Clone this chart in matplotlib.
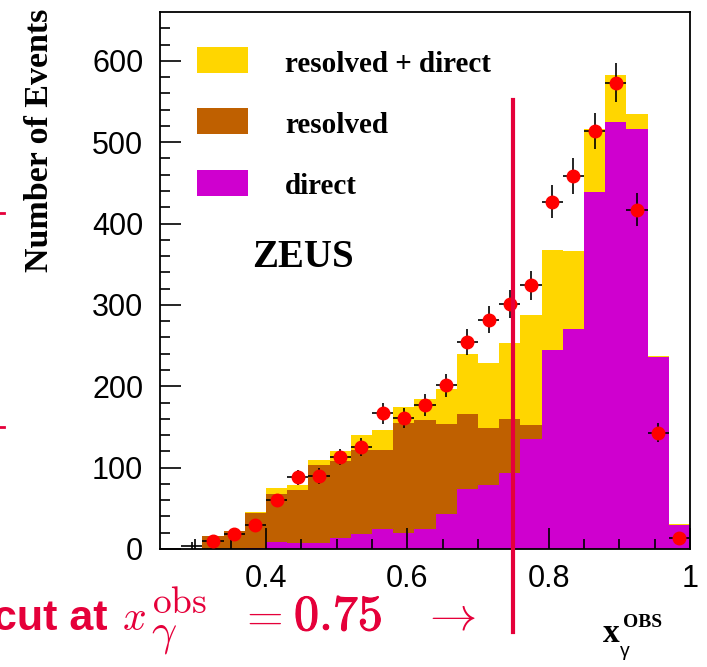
import numpy as np
import matplotlib
matplotlib.use("Agg")
import matplotlib.pyplot as plt
from matplotlib.patches import Rectangle
from matplotlib.lines import Line2D
import matplotlib.transforms as mtransforms
import matplotlib.patheffects as pe

# x_gamma^OBS histogram, 25 bins of 0.03 from 0.25 to 1.0
bin_lo, bin_hi, n_bins = 0.25, 1.0, 25

# MC predictions (events per bin)
resolved = [1.5, 0, 16, 22, 44, 67, 72, 103, 108, 122, 122, 155, 159, 154,
            166, 149, 160, 152, 122, 96, 77, 58, 19, 1.5, 1]
direct = [0, 0, 0.5, 0.5, 1.5, 8, 7, 7, 13, 18, 24, 20, 25, 43,
          74, 79, 93, 135, 245, 270, 439, 525, 516, 236, 30]

# data, bins 1..24
data = [4, 10, 18, 29, 60, 88, 90, 113, 125, 167, 161, 177, 201,
        255, 282, 301, 324, 427, 458, 514, 573, 417, 143, 13]
data_err = [4, 3, 4, 5, 8, 9, 10, 10, 11, 13, 12, 13, 14,
            16, 17, 17, 18, 20, 22, 22, 24, 20, 12, 4]
data_marker_from = 1   # first data bin drawn without a marker

cut_x = 0.75

legend_labels = ["resolved + direct", "resolved", "direct"]
c_yellow = "#FFD600"
c_brown = "#BF6000"
c_magenta = "#CF00CF"
c_red = "#E5003A"

edges = np.linspace(bin_lo, bin_hi, n_bins + 1)
centers = 0.5 * (edges[:-1] + edges[1:])
total = np.array(resolved) + np.array(direct)

plt.rcParams["font.family"] = "Liberation Sans"
plt.rcParams["mathtext.fontset"] = "cm"

W, H = 707, 667
fig = plt.figure(figsize=(W / 100, H / 100), dpi=100)
ax = fig.add_axes([160 / W, 1 - 549 / H, 530 / W, 537 / H])

ax.stairs(total, edges, fill=True, color=c_yellow, lw=0)
ax.stairs(resolved, edges, fill=True, color=c_brown, lw=0)
ax.stairs(direct, edges, fill=True, color=c_magenta, lw=0)

dx = centers[1:]
half = (edges[1] - edges[0]) / 2
ax.errorbar(dx, data, yerr=data_err, xerr=half, fmt="none",
            ecolor="black", elinewidth=1.2, capsize=0, zorder=4)
ax.plot(dx[data_marker_from:], data[data_marker_from:], "o", color="#FF0000",
        ms=9, mec="#FF0000", zorder=5)

ax.set_xlim(bin_lo, bin_hi)
ax.set_ylim(0, 660)
ax.set_xticks([0.4, 0.6, 0.8, 1.0])
ax.set_xticklabels(["0.4", "0.6", "0.8", "1"])
ax.set_xticks(np.arange(0.3, 1.0, 0.05), minor=True)
ax.set_yticks(np.arange(0, 601, 100))
ax.set_yticks(np.arange(0, 660, 20), minor=True)
ax.tick_params(which="both", direction="in", top=False, right=False,
               width=1.2, labelsize=22)
ax.tick_params(which="major", length=15)
ax.tick_params(which="minor", length=7.5)
ax.tick_params(axis="y", pad=12)
ax.tick_params(axis="x", pad=11)
for s in ax.spines.values():
    s.set_linewidth(1.3)

# cut line, runs below the frame
trans = mtransforms.blended_transform_factory(ax.transData, ax.transAxes)
ax.add_line(Line2D([cut_x, cut_x], [0.836, -0.155], transform=trans,
                   color=c_red, lw=3, clip_on=False, zorder=6))

# legend
serif = "Liberation Serif"
box_y = [0.8906, 0.7991, 0.7061]
txt_y = [0.8921, 0.8006, 0.7091]
for lab, col, by, ty in zip(legend_labels, [c_yellow, c_brown, c_magenta], box_y, txt_y):
    fig.patches.append(Rectangle((0.2786, by), 0.0721, 0.039, transform=fig.transFigure,
                                 color=col, lw=0))
    fig.text(0.4031, ty, lab, family=serif, weight="bold", fontsize=21, va="baseline")

fig.text(0.3564, 0.5997, "ZEUS", family=serif, weight="bold", fontsize=28, va="baseline")

fig.text(0.056, 0.79, "Number of Events", family=serif, weight="bold", fontsize=24.5,
         rotation=90, ha="center", va="center")

# x axis title
fig.text(603 / W, 1 - 642 / H, "x", family=serif, weight="bold", fontsize=24, va="baseline")
fig.text(623 / W, 1 - 627 / H, "OBS", family=serif, weight="bold", fontsize=14, va="baseline")
fig.text(620 / W, 1 - 656 / H, "γ", fontsize=14, va="baseline")

# red annotation
def px(x, y):
    return x / W, 1 - y / H

fig.text(*px(-7, 630), "cut at", weight="bold", fontsize=31, color=c_red, va="baseline")
fig.text(*px(122, 630), r"$x$", fontsize=30, color=c_red, va="baseline")
fig.text(*px(152, 613), r"$\mathrm{obs}$", fontsize=27, color=c_red, va="baseline")
fig.text(*px(151, 644), r"$\gamma$", fontsize=32, color=c_red, va="baseline")
fig.text(*px(238, 630), r"$=$", fontsize=34, color=c_red, va="baseline")
fig.text(*px(294, 630), r"$\mathbf{0.75}$", fontsize=36, color=c_red, va="baseline",
         path_effects=[pe.withStroke(linewidth=0.8, foreground=c_red)])
fig.text(*px(421, 630), r"$\rightarrow$", fontsize=34, color=c_red, va="baseline")
for yy in [213, 427]:
    fig.add_artist(Line2D([0, 4 / W], [1 - yy / H] * 2, transform=fig.transFigure,
                          color=c_red, lw=2))

fig.savefig("out.png", dpi=100)
